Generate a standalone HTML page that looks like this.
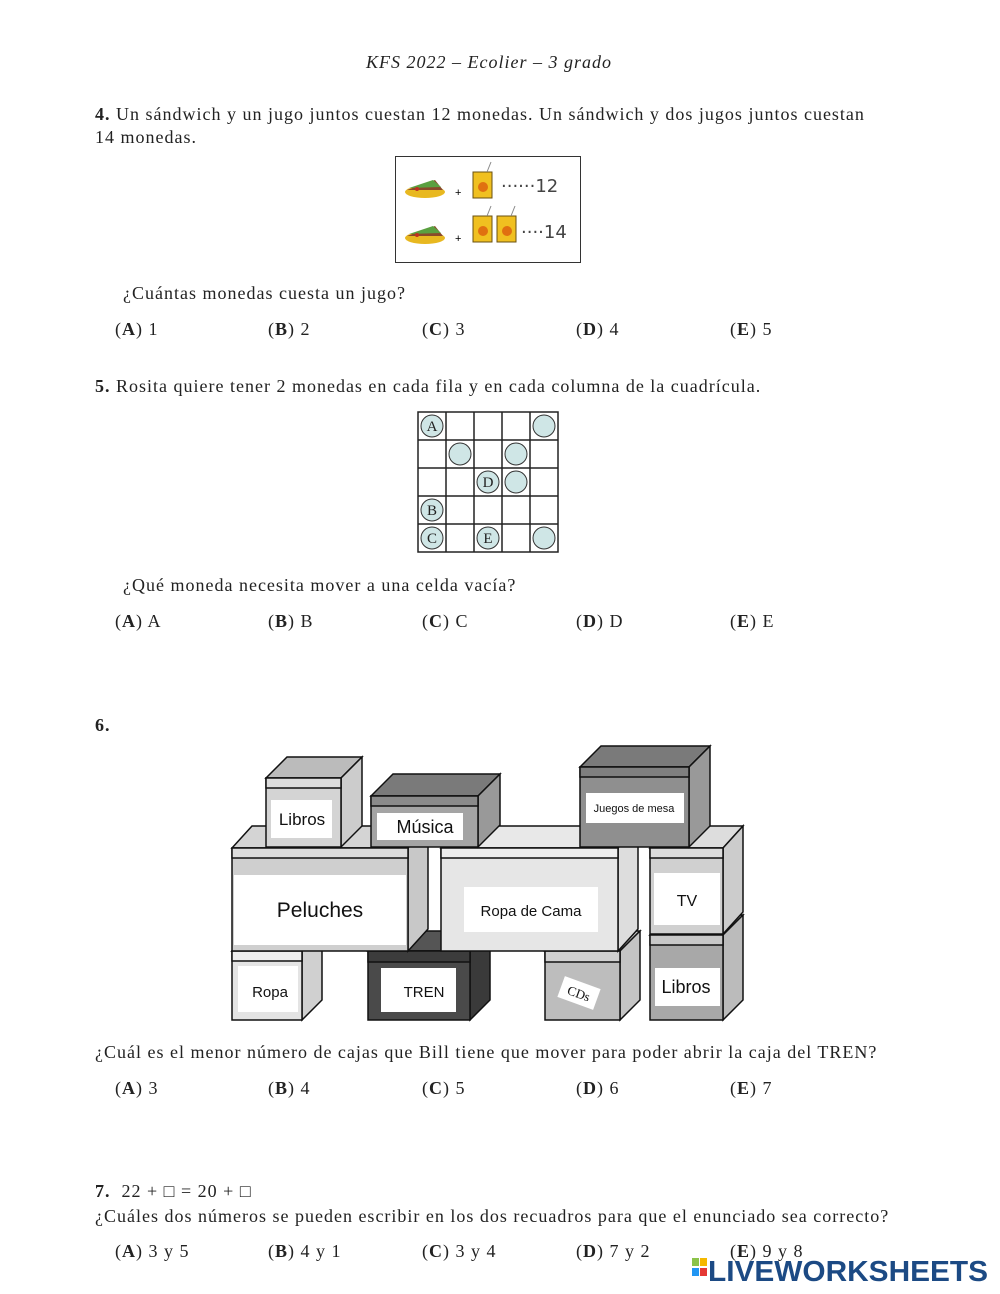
<!DOCTYPE html>
<html><head><meta charset="utf-8"><style>
body{margin:0;background:#fff;}
#p{position:relative;width:1000px;height:1294px;overflow:hidden;font-family:"Liberation Serif",serif;font-size:18px;color:#222;}
.t{position:absolute;white-space:nowrap;line-height:20px;letter-spacing:1px;}
svg{letter-spacing:0;}
b{font-weight:bold;}
</style></head><body><div id="p">
<div class="t" style="left:0;width:978px;text-align:center;top:52px;font-style:italic;">KFS 2022 – Ecolier – 3 grado</div>

<div class="t" style="left:95px;top:104px;"><b>4.</b> Un sándwich y un jugo juntos cuestan 12 monedas. Un sándwich y dos jugos juntos cuestan</div>
<div class="t" style="left:95px;top:127px;">14 monedas.</div>

<svg style="position:absolute;left:395px;top:156px" width="187" height="108">
<rect x="0.5" y="0.5" width="185" height="106" fill="#fff" stroke="#333"/>
<g id="sw"><ellipse cx="30" cy="36" rx="20" ry="6" fill="#e8b820"/><polygon points="12,34 40,24 48,34" fill="#8a4a2a"/><polygon points="14,32 38,24 46,31" fill="#5aa040"/><circle cx="22" cy="33" r="2" fill="#c03020"/></g>
<use href="#sw" x="0" y="46"/>
<text x="60" y="40" font-size="11" font-family="Liberation Sans">+</text>
<text x="60" y="86" font-size="11" font-family="Liberation Sans">+</text>
<g id="ju"><rect x="78" y="16" width="19" height="26" fill="#f0c020" stroke="#6a5010"/><circle cx="88" cy="31" r="5" fill="#e07010"/><line x1="92" y1="16" x2="96" y2="6" stroke="#888"/></g>
<use href="#ju" x="0" y="44"/><use href="#ju" x="24" y="44"/>
<text x="106" y="36" font-size="18" font-family="DejaVu Sans" fill="#444">······12</text>
<text x="126" y="82" font-size="18" font-family="DejaVu Sans" fill="#444">····14</text>
</svg>

<div class="t" style="left:123px;top:283px;">¿Cuántas monedas cuesta un jugo?</div>
<div class="t" style="left:115px;top:319px;">(<b>A</b>) 1</div>
<div class="t" style="left:268px;top:319px;">(<b>B</b>) 2</div>
<div class="t" style="left:422px;top:319px;">(<b>C</b>) 3</div>
<div class="t" style="left:576px;top:319px;">(<b>D</b>) 4</div>
<div class="t" style="left:730px;top:319px;">(<b>E</b>) 5</div>

<div class="t" style="left:95px;top:376px;"><b>5.</b> Rosita quiere tener 2 monedas en cada fila y en cada columna de la cuadrícula.</div>

<svg style="position:absolute;left:417px;top:411px" width="142" height="142" font-family="Liberation Serif" font-size="15">
<g fill="#cfe6e6" stroke="#333">
<circle cx="15" cy="15" r="11"/><circle cx="127" cy="15" r="11"/>
<circle cx="43" cy="43" r="11"/><circle cx="99" cy="43" r="11"/>
<circle cx="71" cy="71" r="11"/><circle cx="99" cy="71" r="11"/>
<circle cx="15" cy="99" r="11"/>
<circle cx="15" cy="127" r="11"/><circle cx="71" cy="127" r="11"/><circle cx="127" cy="127" r="11"/>
</g>
<g text-anchor="middle" fill="#222"><text x="15" y="20">A</text><text x="71" y="76">D</text><text x="15" y="104">B</text><text x="15" y="132">C</text><text x="71" y="132">E</text></g>
<g stroke="#222" stroke-width="1.5" fill="none">
<rect x="1" y="1" width="140" height="140"/>
<path d="M29 1V141M57 1V141M85 1V141M113 1V141M1 29H141M1 57H141M1 85H141M1 113H141"/>
</g>
</svg>

<div class="t" style="left:123px;top:575px;">¿Qué moneda necesita mover a una celda vacía?</div>
<div class="t" style="left:115px;top:611px;">(<b>A</b>) A</div>
<div class="t" style="left:268px;top:611px;">(<b>B</b>) B</div>
<div class="t" style="left:422px;top:611px;">(<b>C</b>) C</div>
<div class="t" style="left:576px;top:611px;">(<b>D</b>) D</div>
<div class="t" style="left:730px;top:611px;">(<b>E</b>) E</div>

<div class="t" style="left:95px;top:715px;"><b>6.</b></div>

<svg style="position:absolute;left:0;top:0" width="1000" height="1294" font-family="Liberation Sans">
<g stroke="#111" stroke-width="1.5" stroke-linejoin="miter">
<polygon points="368,951 388,931 490,931 470,951" fill="#555"/>
<polygon points="470,951 490,931 490,1000 470,1020" fill="#3a3a3a"/>
<rect x="368" y="951" width="102" height="69" fill="#4a4a4a"/>
<rect x="368" y="951" width="102" height="11" fill="#3c3c3c"/>
<polygon points="232,951 252,931 322,931 302,951" fill="#ddd"/>
<polygon points="302,951 322,931 322,1000 302,1020" fill="#d0d0d0"/>
<rect x="232" y="951" width="70" height="69" fill="#e4e4e4"/>
<rect x="232" y="951" width="70" height="10" fill="#eee"/>
<polygon points="545,951 565,931 640,931 620,951" fill="#ccc"/>
<polygon points="620,951 640,931 640,1000 620,1020" fill="#c4c4c4"/>
<rect x="545" y="951" width="75" height="69" fill="#bdbdbd"/>
<rect x="545" y="951" width="75" height="11" fill="#d0d0d0"/>
<polygon points="650,935 670,915 743,915 723,935" fill="#ccc"/>
<polygon points="723,935 743,915 743,1000 723,1020" fill="#bbb"/>
<rect x="650" y="935" width="73" height="85" fill="#a8a8a8"/>
<rect x="650" y="935" width="73" height="10" fill="#c8c8c8"/>
<polygon points="232,848 252,826 428,826 408,848" fill="#d4d4d4"/>
<polygon points="408,848 428,826 428,929 408,951" fill="#c8c8c8"/>
<rect x="232" y="848" width="176" height="103" fill="#cfcfcf"/>
<rect x="232" y="848" width="176" height="10" fill="#dcdcdc"/>
<polygon points="441,848 461,826 638,826 618,848" fill="#e8e8e8"/>
<polygon points="618,848 638,826 638,929 618,951" fill="#ddd"/>
<rect x="441" y="848" width="177" height="103" fill="#e6e6e6"/>
<rect x="441" y="848" width="177" height="10" fill="#eee"/>
<polygon points="650,848 670,826 743,826 723,848" fill="#ddd"/>
<polygon points="723,848 743,826 743,912 723,934" fill="#ccc"/>
<rect x="650" y="848" width="73" height="86" fill="#d0d0d0"/>
<rect x="650" y="848" width="73" height="10" fill="#ddd"/>
<polygon points="266,778 287,757 362,757 341,778" fill="#bbb"/>
<polygon points="341,778 362,757 362,826 341,847" fill="#ccc"/>
<rect x="266" y="778" width="75" height="69" fill="#d4d4d4"/>
<rect x="266" y="778" width="75" height="10" fill="#ddd"/>
<polygon points="371,796 393,774 500,774 478,796" fill="#7a7a7a"/>
<polygon points="478,796 500,774 500,825 478,847" fill="#999"/>
<rect x="371" y="796" width="107" height="51" fill="#a4a4a4"/>
<rect x="371" y="796" width="107" height="10" fill="#8a8a8a"/>
<polygon points="580,767 601,746 710,746 689,767" fill="#7a7a7a"/>
<polygon points="689,767 710,746 710,826 689,847" fill="#999"/>
<rect x="580" y="767" width="109" height="80" fill="#8f8f8f"/>
<rect x="580" y="767" width="109" height="10" fill="#7f7f7f"/>
</g>
<g fill="#fff">
<rect x="238" y="966" width="60" height="46"/>
<rect x="381" y="968" width="75" height="44"/>
<rect x="655" y="968" width="65" height="38"/>
<rect x="234" y="875" width="172" height="70"/>
<rect x="464" y="887" width="134" height="45"/>
<rect x="654" y="873" width="66" height="52"/>
<rect x="271" y="800" width="61" height="38"/>
<rect x="377" y="813" width="86" height="27"/>
<rect x="586" y="793" width="98" height="30"/>
<rect x="560" y="982" width="38" height="22" transform="rotate(20 579 993)"/>
</g>
<g fill="#111" text-anchor="middle">
<text x="270" y="997" font-size="15">Ropa</text>
<text x="424" y="997" font-size="15">TREN</text>
<text x="686" y="993" font-size="18">Libros</text>
<text x="320" y="917" font-size="21">Peluches</text>
<text x="531" y="916" font-size="15">Ropa de Cama</text>
<text x="687" y="906" font-size="16">TV</text>
<text x="302" y="825" font-size="17">Libros</text>
<text x="425" y="833" font-size="18">Música</text>
<text x="634" y="812" font-size="11">Juegos de mesa</text>
<text x="579" y="998" font-size="13" font-family="Liberation Serif" transform="rotate(20 579 993)">CDs</text>
</g>
</svg>

<div class="t" style="left:95px;top:1042px;">¿Cuál es el menor número de cajas que Bill tiene que mover para poder abrir la caja del TREN?</div>
<div class="t" style="left:115px;top:1078px;">(<b>A</b>) 3</div>
<div class="t" style="left:268px;top:1078px;">(<b>B</b>) 4</div>
<div class="t" style="left:422px;top:1078px;">(<b>C</b>) 5</div>
<div class="t" style="left:576px;top:1078px;">(<b>D</b>) 6</div>
<div class="t" style="left:730px;top:1078px;">(<b>E</b>) 7</div>

<div class="t" style="left:95px;top:1181px;"><b>7.</b>&nbsp; 22 + □ = 20 + □</div>
<div class="t" style="left:95px;top:1206px;">¿Cuáles dos números se pueden escribir en los dos recuadros para que el enunciado sea correcto?</div>
<div class="t" style="left:115px;top:1241px;">(<b>A</b>) 3 y 5</div>
<div class="t" style="left:268px;top:1241px;">(<b>B</b>) 4 y 1</div>
<div class="t" style="left:422px;top:1241px;">(<b>C</b>) 3 y 4</div>
<div class="t" style="left:576px;top:1241px;">(<b>D</b>) 7 y 2</div>
<div class="t" style="left:730px;top:1241px;">(<b>E</b>) 9 y 8</div>

<svg style="position:absolute;left:692px;top:1256px" width="300" height="30">
<rect x="0" y="2" width="7" height="8" fill="#8bc34a"/><rect x="8" y="2" width="7" height="8" fill="#f5b800"/>
<rect x="0" y="12" width="7" height="8" fill="#2196f3"/><rect x="8" y="12" width="7" height="8" fill="#e53935"/>
<text x="16" y="25" font-family="Liberation Sans" font-weight="bold" font-size="29" fill="#1c4a84" textLength="280" lengthAdjust="spacingAndGlyphs">LIVEWORKSHEETS</text>
</svg>
</div></body></html>
